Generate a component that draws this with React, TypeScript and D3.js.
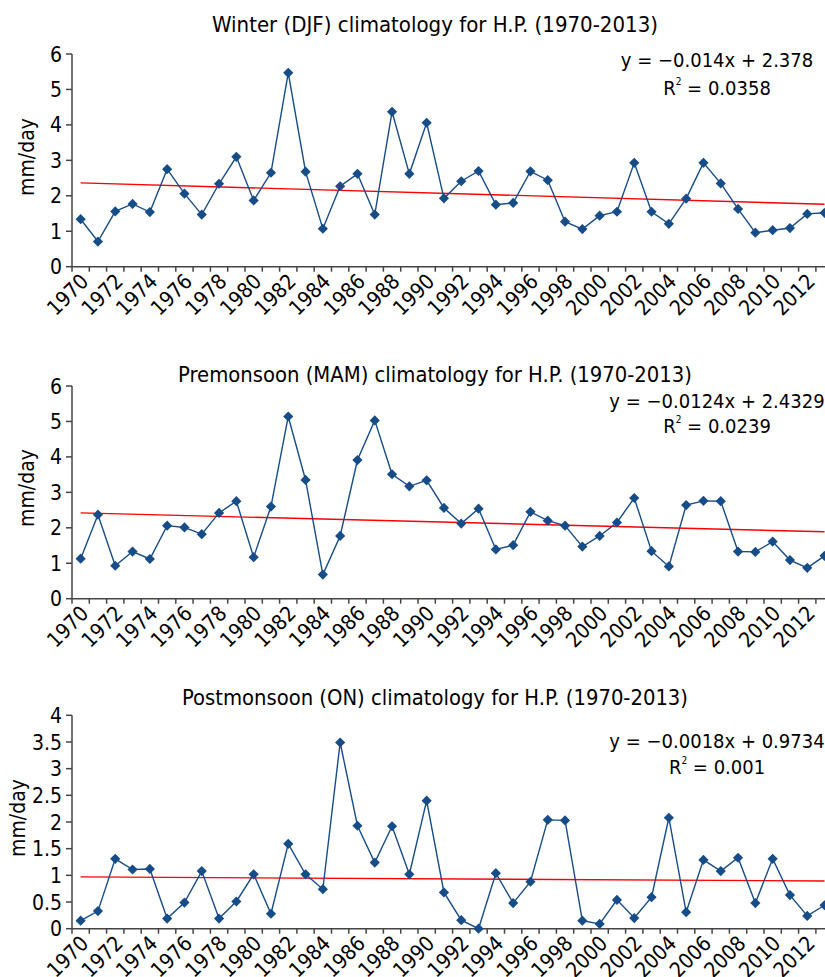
import React from 'react';
import * as d3 from 'd3';

const years = d3.range(1970, 2014);
const xTickLabels = ['1970','1972','1974','1976','1978','1980','1982','1984','1986','1988','1990','1992','1994','1996','1998','2000','2002','2004','2006','2008','2010','2012'];

const winter = [1.34,0.71,1.56,1.77,1.54,2.75,2.06,1.47,2.34,3.10,1.87,2.65,5.47,2.68,1.07,2.27,2.62,1.47,4.37,2.62,
  4.06,1.93,2.41,2.70,1.75,1.80,2.69,2.44,1.27,1.06,1.44,1.55,2.93,1.55,1.21,1.92,2.93,2.35,1.63,0.96,1.03,1.09,1.49,1.52];
const premonsoon = [1.13,2.37,0.93,1.33,1.12,2.06,2.01,1.82,2.42,2.75,1.17,2.60,5.14,3.35,0.68,1.77,3.91,5.03,3.51,3.17,
  3.34,2.56,2.12,2.54,1.39,1.51,2.45,2.20,2.06,1.47,1.77,2.15,2.84,1.34,0.91,2.64,2.76,2.75,1.33,1.32,1.61,1.09,0.87,1.21];
const postmonsoon = [0.15,0.33,1.31,1.11,1.12,0.19,0.49,1.08,0.19,0.51,1.02,0.28,1.59,1.02,0.74,3.49,1.93,1.24,1.92,1.02,
  2.40,0.68,0.16,0.0,1.04,0.48,0.88,2.04,2.03,0.15,0.09,0.54,0.20,0.59,2.08,0.31,1.29,1.08,1.33,0.48,1.31,0.63,0.24,0.44];

const titles = [
  'Winter (DJF) climatology for H.P. (1970-2013)',
  'Premonsoon (MAM) climatology for H.P. (1970-2013)',
  'Postmonsoon (ON) climatology for H.P. (1970-2013)',
];
const slopes = [-0.014, -0.0124, -0.0018];
const intercepts = [2.378, 2.4329, 0.9734];
const eqTexts = ['y = \u22120.014x + 2.378', 'y = \u22120.0124x + 2.4329', 'y = \u22120.0018x + 0.9734'];
const r2Texts = ['0.0358', '0.0239', '0.001'];
const yTicksA = [0, 1, 2, 3, 4, 5, 6];
const yTicksB = [0, 0.5, 1, 1.5, 2, 2.5, 3, 3.5, 4];

const FONT = "'DejaVu Sans Condensed', 'DejaVu Sans', sans-serif";
const AXIS = '#444';
const BLUE = '#164C88';
const RED = '#FF0000';

const layouts = [
  { top: 54, bottom: 266.7, titleY: 32, titleW: 446, eqY: 67, r2Y: 95, ylX: 34, ylY: 157, ticks: yTicksA, max: 6 },
  { top: 386, bottom: 598.7, titleY: 382, titleW: 514, eqY: 408, r2Y: 433, ylX: 34, ylY: 488, ticks: yTicksA, max: 6 },
  { top: 715.3, bottom: 928.7, titleY: 705, titleW: 506, eqY: 748, r2Y: 774, ylX: 25, ylY: 818, ticks: yTicksB, max: 4 },
];
const series = [winter, premonsoon, postmonsoon];

const LEFT = 72;
const BAND = 17.3;

function Panel({ idx }: { idx: number }) {
  const L = layouts[idx];
  const data = series[idx];
  const x = d3.scaleBand<number>().domain(years).range([LEFT, LEFT + BAND * years.length]).padding(0);
  const y = d3.scaleLinear().domain([0, L.max]).range([L.bottom, L.top]);
  const cx = (yr: number) => (x(yr) as number) + x.bandwidth() / 2;
  const line = d3.line<number>().x((_, i) => cx(years[i])).y((d) => y(d));
  const trend = d3.line<number>().x((i) => cx(years[i - 1])).y((i) => y(slopes[idx] * i + intercepts[idx]));
  const marker = d3.symbol().type(d3.symbolSquare).size(52)() as string;
  const boundaries = d3.range(years.length + 1).map((i) => LEFT + i * x.bandwidth());
  const fmt = (v: number) => (Number.isInteger(v) ? String(v) : v.toFixed(1));
  return (
    <g>
      <text x={435} y={L.titleY} textAnchor="middle" fontSize={21} textLength={L.titleW} lengthAdjust="spacingAndGlyphs" fill="#000">{titles[idx]}</text>
      <text x={717} y={L.eqY} textAnchor="middle" fontSize={20} fill="#000">{eqTexts[idx]}</text>
      <text x={717} y={L.r2Y} textAnchor="middle" fontSize={20} fill="#000">
        R<tspan fontSize={10} dy={-10}>2</tspan><tspan dy={10}> = {r2Texts[idx]}</tspan>
      </text>
      <text transform={`translate(${L.ylX},${L.ylY}) rotate(-90)`} textAnchor="middle" fontSize={21} fill="#000">mm/day</text>
      {/* y axis */}
      <line x1={LEFT} x2={LEFT} y1={L.top} y2={L.bottom} stroke={AXIS} strokeWidth={1.5} />
      {L.ticks.map((t) => (
        <g key={t}>
          <line x1={LEFT - 6} x2={LEFT} y1={y(t)} y2={y(t)} stroke={AXIS} strokeWidth={1.5} />
          <text x={62} y={y(t)} dy="0.36em" textAnchor="end" fontSize={21} fill="#000">{fmt(t)}</text>
        </g>
      ))}
      {/* x axis */}
      <line x1={LEFT} x2={LEFT + BAND * years.length} y1={L.bottom} y2={L.bottom} stroke={AXIS} strokeWidth={1.5} />
      {boundaries.map((b, i) => (
        <line key={i} x1={b} x2={b} y1={L.bottom} y2={L.bottom + 5} stroke={AXIS} strokeWidth={1.5} />
      ))}
      {xTickLabels.map((lab) => (
        <text key={lab} transform={`translate(${cx(+lab) + 9},${L.bottom + 16}) rotate(-45)`} textAnchor="end" fontSize={21} fill="#000">{lab}</text>
      ))}
      {/* trend */}
      <path d={trend([1, years.length]) as string} fill="none" stroke={RED} strokeWidth={1.4} />
      {/* series */}
      <path d={line(data) as string} fill="none" stroke={BLUE} strokeWidth={1.4} />
      {data.map((d, i) => (
        <path key={i} d={marker} transform={`translate(${cx(years[i])},${y(d)}) rotate(45)`} fill={BLUE} />
      ))}
    </g>
  );
}

export default function App() {
  return (
    <svg width={825} height={977} style={{ position: 'absolute', left: 0, top: 0, background: '#fff' }} fontFamily={FONT}>
      <rect width={825} height={977} fill="#fff" />
      {[0, 1, 2].map((i) => <Panel key={i} idx={i} />)}
    </svg>
  );
}
